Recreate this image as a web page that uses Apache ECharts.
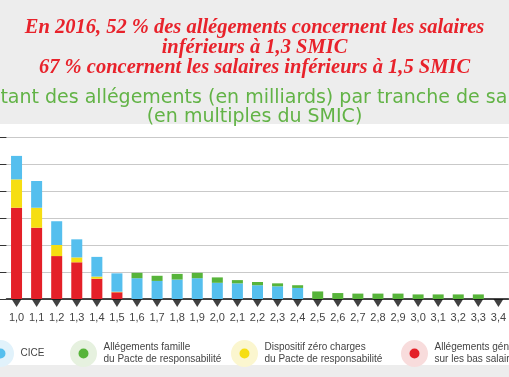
<!DOCTYPE html>
<html>
<head>
<meta charset="utf-8">
<script src="https://cdn.jsdelivr.net/npm/echarts@6/dist/echarts.min.js"></script>
<style>
  html, body { margin: 0; padding: 0; }
  #chart {
    width: 509px; height: 377px;
    background: linear-gradient(to bottom, #ededed 124px, #ffffff 124px, #ffffff 365px, #ededed 365px);
  }
</style>
</head>
<body>
<div id="chart"></div>
<script>
// tranches de salaire (en multiples du SMIC)
var categories = ['1,0', '1,1', '1,2', '1,3', '1,4', '1,5', '1,6', '1,7', '1,8', '1,9', '2,0', '2,1', '2,2',
    '2,3', '2,4', '2,5', '2,6', '2,7', '2,8', '2,9', '3,0', '3,1', '3,2', '3,3', '3,4'];
// Allégements généraux sur les bas salaires
var generaux = [3.38, 2.64, 1.59, 1.36, 0.75, 0.25, 0, 0, 0, 0, 0, 0, 0, 0, 0, 0, 0, 0, 0, 0, 0, 0, 0, 0, 0];
// Dispositif zéro charges du Pacte
var zeroCharges = [1.05, 0.74, 0.41, 0.18, 0.08, 0.02, 0, 0, 0, 0, 0, 0, 0, 0, 0, 0, 0, 0, 0, 0, 0, 0, 0, 0, 0];
// CICE
var cice = [0.87, 0.99, 0.88, 0.67, 0.73, 0.68, 0.77, 0.67, 0.72, 0.77, 0.60, 0.58, 0.51, 0.47, 0.41,
    0, 0, 0, 0, 0, 0, 0, 0, 0, 0];
// Allégements famille du Pacte
var famille = [0, 0, 0, 0, 0, 0, 0.20, 0.19, 0.21, 0.20, 0.20, 0.12, 0.12, 0.11, 0.10,
    0.28, 0.22, 0.20, 0.20, 0.20, 0.17, 0.17, 0.17, 0.17, 0];
// repères noirs sous l'axe
var reperes = categories.map(function () { return 0; });

var legendNames = {
    'CICE': 'CICE',
    'famille': 'Allégements famille\ndu Pacte de responsabilité',
    'zero': 'Dispositif zéro charges\ndu Pacte de responsabilité',
    'generaux': 'Allégements généraux\nsur les bas salaires'
};

var myChart = echarts.init(document.getElementById('chart'));

function legendAt(left, name, color, halo) {
    return {
        left: left,
        top: 340,
        padding: 0,
        icon: 'circle',
        itemWidth: 30,
        itemHeight: 18.5,
        selectedMode: false,
        data: [{ name: name, itemStyle: { color: color, borderColor: halo, borderWidth: 8.5 } }],
        formatter: function (n) { return legendNames[n]; },
        textStyle: { fontFamily: 'Liberation Sans', fontSize: 10, lineHeight: 12, color: '#444' }
    };
}

var option = {
    backgroundColor: 'transparent',
    animation: false,
    title: [{
        text: 'En 2016, 52 % des allégements concernent les salaires\ninférieurs à 1,3 SMIC\n67 % concernent les salaires inférieurs à 1,5 SMIC',
        left: 'center',
        top: 18,
        padding: 0,
        textStyle: {
            fontFamily: 'Liberation Serif', fontStyle: 'italic', fontWeight: 'bold',
            fontSize: 20.5, lineHeight: 20, color: '#e8222b'
        }
    }, {
        text: 'Montant des allégements (en milliards) par tranche de salaire\n(en multiples du SMIC)',
        left: 'center',
        top: 89,
        padding: 0,
        textStyle: {
            fontFamily: 'DejaVu Sans', fontWeight: 'normal',
            fontSize: 19, lineHeight: 19, color: '#62b346'
        }
    }],
    legend: [
        legendAt(-13, 'CICE', '#55bfee', '#e1f2fb'),
        legendAt(70, 'famille', '#57b43a', '#e6f1df'),
        legendAt(231, 'zero', '#f6de12', '#fbf6cf'),
        legendAt(401, 'generaux', '#e42028', '#f8dcdc')
    ],
    grid: { left: 6.5, top: 137, width: 505, height: 162 },
    xAxis: {
        type: 'category',
        data: categories,
        axisLine: { lineStyle: { color: '#111', width: 1.5 } },
        axisTick: { show: false },
        axisLabel: { color: '#444', fontFamily: 'Liberation Sans', fontSize: 11, margin: 13, interval: 0 }
    },
    yAxis: {
        type: 'value',
        min: 0, max: 6, interval: 1,
        axisLine: { show: false },
        axisTick: { show: true, length: 7, lineStyle: { color: '#333' } },
        axisLabel: { show: false },
        splitLine: { lineStyle: { color: '#c9c9c9' } }
    },
    series: [
        { name: 'generaux', type: 'bar', stack: 'a', barWidth: 11, data: generaux, itemStyle: { color: '#e42028' } },
        { name: 'zero', type: 'bar', stack: 'a', barWidth: 11, data: zeroCharges, itemStyle: { color: '#f6de12' } },
        { name: 'CICE', type: 'bar', stack: 'a', barWidth: 11, data: cice, itemStyle: { color: '#55bfee' } },
        { name: 'famille', type: 'bar', stack: 'a', barWidth: 11, data: famille, itemStyle: { color: '#57b43a' } },
        {
            name: 'reperes', type: 'scatter', data: reperes, clip: false, z: 5,
            symbol: 'path://M0,0L10,0L5,8Z', symbolSize: [10, 8], symbolOffset: [0, 4],
            itemStyle: { color: '#111' }, silent: true
        }
    ]
};

myChart.setOption(option);
</script>
</body>
</html>
